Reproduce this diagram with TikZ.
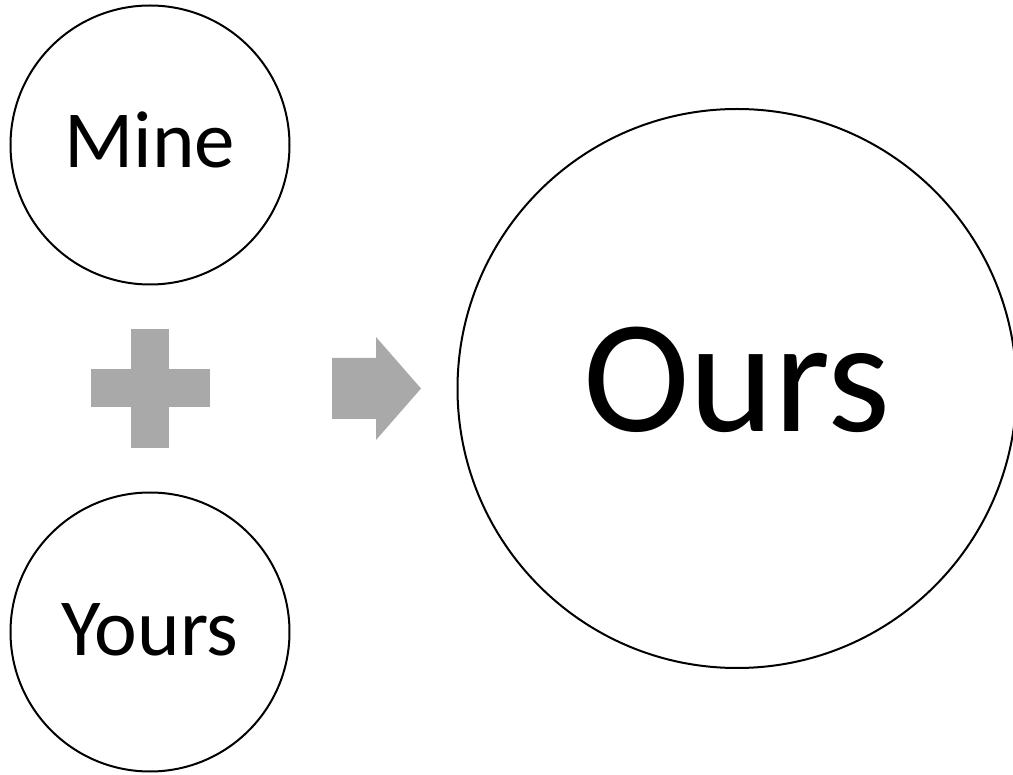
\documentclass[tikz,border=0pt]{standalone}
\usepackage{fontspec}
\setmainfont{Carlito}
\usetikzlibrary{positioning,calc}
\definecolor{signgray}{HTML}{A9A9A9}
\tikzset{
  ring/.style   ={circle,draw=black,line width=2pt,inner sep=0pt,minimum size=279pt,
                  font=\fontsize{81}{97}\selectfont,text height=52pt,text depth=6pt},
  bigring/.style={ring,minimum size=559pt,
                  font=\fontsize{161}{193}\selectfont,text height=104pt,text depth=17pt},
  sign/.style   ={fill=signgray,draw=none},
}
\begin{document}
\begin{tikzpicture}[x=1pt,y=-1pt]
  \useasboundingbox (0,0) rectangle (1013,775);

  \node[ring] (mine)  at (150,145) {Mine};
  \node[ring] (yours) at (150,632) {Yours};
  \node[bigring] (ours) at (737,388.5) {Ours};

  % plus sign between the two small circles
  \coordinate (plus) at ($(mine)!0.5!(yours)$);
  \fill[sign] ($(plus)+(-19,-59.5)$) rectangle ($(plus)+(19,59.5)$);
  \fill[sign] ($(plus)+(-59.5,-19)$) rectangle ($(plus)+(59.5,19)$);

  % block arrow towards the big circle
  \coordinate (tip) at (421,388.5);
  \fill[sign] ($(tip)+(-89,-30.5)$) -- ($(tip)+(-45,-30.5)$) -- ($(tip)+(-45,-51.5)$)
    -- (tip) -- ($(tip)+(-45,51.5)$) -- ($(tip)+(-45,30.5)$) -- ($(tip)+(-89,30.5)$) -- cycle;
\end{tikzpicture}
\end{document}
